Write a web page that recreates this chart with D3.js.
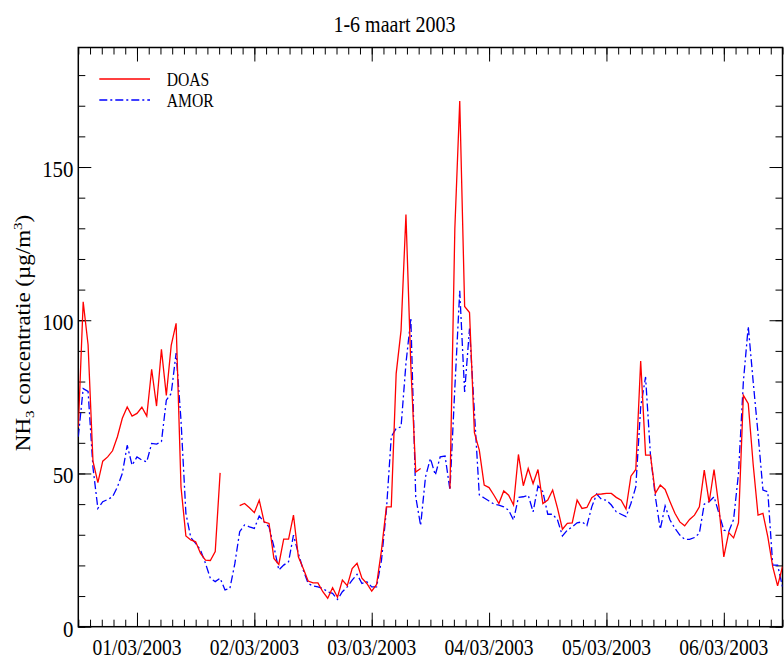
<!DOCTYPE html>
<html><head><meta charset="utf-8">
<script src="https://cdn.jsdelivr.net/npm/d3@7"></script>
<style>
body{margin:0;background:#fff}
svg{display:block}
text{font-family:"Liberation Serif","Times New Roman",serif;fill:#000}
</style>
</head><body>
<svg id="c" width="784" height="660"></svg>
<script>
// hours since 1 March 2003 00:00
const hours = d3.range(0, 145);
const doas = [65,106,92,54,47,54,55.4,57.4,62,68,71.7,68.7,69.6,71.6,68.7,84,72,90.5,75.5,91.8,
  99,45.6,29.6,28.3,27.7,23.9,21.7,21.6,24.5,50.2,null,null,null,39.5,40.2,38.8,37.2,41.3,34.2,33.7,
  22.3,20.3,28.6,28.6,36.4,22.8,19,14.9,14.3,14.3,11.4,9.3,12.7,9.6,15.2,13.4,19,20.7,15.8,14.1,
  11.6,13.8,25,39.1,39.1,82.6,96.7,134.5,85,50.5,51.6,null,null,null,null,null,45,130,171.5,104.5,
  102.5,63.3,57.6,46.2,45.4,42.9,40.2,44.3,42.9,39.7,56.2,46,51.6,46.7,51.3,40.2,41.3,44.6,38.6,31.8,
  33.7,33.9,41.3,38.6,38.9,42.1,43.2,43.3,43.5,43.5,42.2,41.3,38.4,49.1,51.3,86.7,56,56,43.5,46.2,
  44.8,40.8,37,34.2,32.9,35,36.4,39.1,51.1,40.6,51.3,39.1,22.8,30.7,29,33.9,75.5,72.8,53,36.4,
  37,29.3,19.6,13.3,19.6];
const amor = [62,77.7,76.8,52,38.6,40.8,41.5,42.4,45.6,50,59.2,52.7,55.4,54.4,53.8,59.8,59.6,60.4,73.9,76.1,
  89.3,67.4,37,29.1,27.2,25,20.7,15.8,14.7,15.8,12,12.5,20.5,31,33.2,32.6,32.1,36.1,34.2,32.6,
  26.1,18.5,20.1,21.2,29.9,23.9,18.5,14.1,13.3,13,12.5,11.4,10.9,8.9,11.4,13,15.2,17.1,14.1,14.7,
  13,13,21.7,38,62,64.7,65.2,85.9,100.6,42.4,33,48.9,54.9,49.5,55.4,55.7,44.6,78,109.6,76.6,
  97.3,70,43,42,41,40,39.7,39.1,38,34.8,42.2,42.4,42.9,37.5,45.9,44,36.7,36.7,34.8,29.6,
  31.5,32.6,33.9,34.2,33,39.1,43.3,41.5,41.3,39.7,37.5,36.7,35.9,40.2,45.6,71.7,81.5,56,42.4,31.8,
  39.4,34.8,32.1,29.9,28.5,28.5,29.1,30.5,40,40.8,42.4,37,31.5,31,35,50,80,98,80,63,
  44.6,44,20.1,20.1,13];
const dayTickHours = [12, 36, 60, 84, 108, 132];
const dayLabels = ["01/03/2003","02/03/2003","03/03/2003","04/03/2003","05/03/2003","06/03/2003"];
const yTicks = [0, 50, 100, 150];
const seriesNames = ["DOAS", "AMOR"];
const titleText = "1-6 maart 2003";

const L = 78.3, R = 782.5, T = 47.5, B = 626.7;
const SX = 0.87; // horizontal squeeze of glyphs in the reference
const svg = d3.select("#c");
const x = d3.scaleLinear().domain([0, 144]).range([L, R]);
const y = d3.scaleLinear().domain([0, 189]).range([B, T]);

const minorX = d3.range(61).map(i => i * 2.4);
const minorY = d3.range(0, 190, 10);

function styleAxis(g){ g.select(".domain").remove(); g.selectAll("line").attr("stroke","#000").attr("stroke-width",1); g.selectAll("text").remove(); }

svg.append("g").attr("transform",`translate(0,${B})`).call(d3.axisBottom(x).tickValues(minorX).tickSize(-7).tickFormat("")).call(styleAxis);
svg.append("g").attr("transform",`translate(0,${B})`).call(d3.axisBottom(x).tickValues(dayTickHours).tickSize(-14).tickFormat("")).call(styleAxis);
svg.append("g").attr("transform",`translate(0,${T})`).call(d3.axisTop(x).tickValues(minorX).tickSize(-7).tickFormat("")).call(styleAxis);
svg.append("g").attr("transform",`translate(0,${T})`).call(d3.axisTop(x).tickValues(dayTickHours).tickSize(-14).tickFormat("")).call(styleAxis);
svg.append("g").attr("transform",`translate(${L},0)`).call(d3.axisLeft(y).tickValues(minorY).tickSize(-7).tickFormat("")).call(styleAxis);
svg.append("g").attr("transform",`translate(${L},0)`).call(d3.axisLeft(y).tickValues(yTicks).tickSize(-13).tickFormat("")).call(styleAxis);
svg.append("g").attr("transform",`translate(${R},0)`).call(d3.axisRight(y).tickValues(minorY).tickSize(-7).tickFormat("")).call(styleAxis);
svg.append("g").attr("transform",`translate(${R},0)`).call(d3.axisRight(y).tickValues(yTicks).tickSize(-13).tickFormat("")).call(styleAxis);

svg.append("rect").attr("x",L).attr("y",T).attr("width",R-L).attr("height",B-T)
  .attr("fill","none").attr("stroke","#000").attr("stroke-width",1.5);

// tick labels
svg.append("g").selectAll("text").data(yTicks).join("text")
  .attr("transform", d => `translate(73.5,${y(d)+10}) scale(${SX},1)`)
  .attr("text-anchor","end").attr("font-size",24).text(d => d);
svg.append("g").selectAll("text").data(dayTickHours).join("text")
  .attr("transform", (d) => `translate(${x(d)},655) scale(${SX},1)`)
  .attr("text-anchor","middle").attr("font-size",22.5).text((d,i) => dayLabels[i]);

// title
svg.append("text").attr("transform",`translate(394.5,31.5) scale(${SX},1)`)
  .attr("text-anchor","middle").attr("font-size",23).text(titleText);

// y-axis title
const yt = svg.append("text").attr("transform",`translate(30,333) scale(${SX},1) rotate(-90)`)
  .attr("text-anchor","middle").attr("font-size",23);
yt.append("tspan").text("NH");
yt.append("tspan").attr("dy",5).attr("font-size",15).text("3");
yt.append("tspan").attr("dy",-5).text(" concentratie (µg/m");
yt.append("tspan").attr("dy",-9).attr("font-size",15).text("3");
yt.append("tspan").attr("dy",9).text(")");

// lines
const mk = vals => d3.line().defined(i => vals[i] != null).x(i => x(hours[i])).y(i => y(vals[i]));
const clip = svg.append("clipPath").attr("id","pc").append("rect").attr("x",L).attr("y",T).attr("width",R-L).attr("height",B-T);
svg.append("path").attr("clip-path","url(#pc)").attr("d", mk(amor)(d3.range(hours.length)))
  .attr("fill","none").attr("stroke","#0000ff").attr("stroke-width",1.3).attr("stroke-dasharray","8,3,2,3");
svg.append("path").attr("clip-path","url(#pc)").attr("d", mk(doas)(d3.range(hours.length)))
  .attr("fill","none").attr("stroke","#ff0000").attr("stroke-width",1.3);

// legend
const leg = [{c:"#ff0000",dash:null,yy:79,tb:85.7},{c:"#0000ff",dash:"8,3,2,3",yy:100,tb:106.7}];
leg.forEach((l,i) => {
  svg.append("line").attr("x1",99.3).attr("x2",150).attr("y1",l.yy).attr("y2",l.yy)
    .attr("stroke",l.c).attr("stroke-width",1.3).attr("stroke-dasharray",l.dash);
  svg.append("text").attr("transform",`translate(166.7,${l.tb}) scale(${SX},1)`)
    .attr("font-size",18).text(seriesNames[i]);
});
</script>
</body></html>
